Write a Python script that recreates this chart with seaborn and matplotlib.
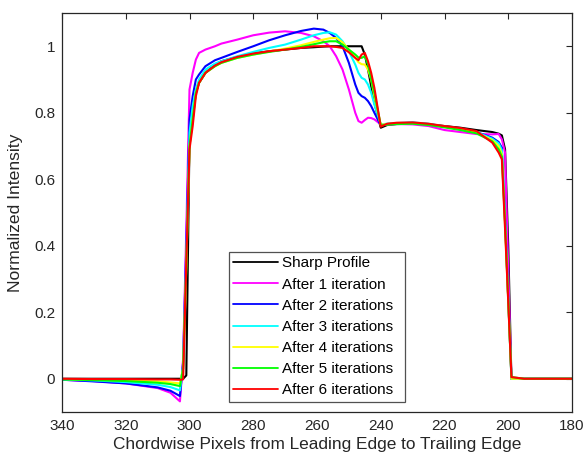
import matplotlib
matplotlib.use("Agg")
import matplotlib.pyplot as plt
import seaborn as sns
import pandas as pd
from matplotlib.lines import Line2D

# ---- data ----
x_px = [340, 330, 320, 310, 306, 303, 302, 301, 300, 299, 298, 297, 295, 292, 290,
        285, 280, 275, 270, 265, 261, 258, 256, 254, 252, 250, 248, 247, 246, 245,
        244, 243, 242, 240, 238, 235, 230, 225, 220, 215, 210, 205, 203, 202, 201,
        200, 199, 195, 190, 180]

sharp = [0, 0, 0, 0, 0, 0, 0, 0.01, 0.72, 0.79, 0.86, 0.89, 0.92, 0.945, 0.955,
         0.968, 0.978, 0.985, 0.99, 0.995, 0.997, 0.999, 1.0, 1.0, 1.0, 1.0, 1.0, 1.0, 1.0, 0.975,
         0.93, 0.88, 0.83, 0.755, 0.763, 0.766, 0.767, 0.765, 0.76, 0.755, 0.748, 0.742, 0.737, 0.732, 0.69,
         0.4, 0, 0, 0, 0]

iter1 = [-0.003, -0.007, -0.014, -0.028, -0.042, -0.068, 0.06, 0.45, 0.87, 0.92, 0.96, 0.98, 0.99, 1.0, 1.008,
         1.02, 1.033, 1.041, 1.045, 1.04, 1.03, 1.015, 1.0, 0.97, 0.93, 0.87, 0.80, 0.775, 0.77, 0.778,
         0.785, 0.784, 0.78, 0.765, 0.764, 0.766, 0.765, 0.76, 0.748, 0.742, 0.736, 0.735, 0.736, 0.72, 0.68,
         0.33, 0, 0, 0, 0]

iter2 = [-0.003, -0.008, -0.014, -0.026, -0.036, -0.052, 0.05, 0.40, 0.78, 0.85, 0.90, 0.915, 0.94, 0.958, 0.965,
         0.983, 1.0, 1.018, 1.033, 1.046, 1.053, 1.05, 1.04, 1.025, 1.0, 0.95, 0.885, 0.86, 0.85, 0.845,
         0.835, 0.82, 0.80, 0.762, 0.766, 0.768, 0.77, 0.766, 0.758, 0.752, 0.742, 0.725, 0.712, 0.695, 0.48,
         0.24, 0, 0, 0, 0]

iter3 = [-0.002, -0.005, -0.01, -0.018, -0.025, -0.035, 0.04, 0.36, 0.74, 0.82, 0.87, 0.90, 0.93, 0.948, 0.955,
         0.97, 0.983, 0.995, 1.005, 1.02, 1.033, 1.04, 1.042, 1.035, 1.015, 0.985, 0.945, 0.92, 0.905, 0.9,
         0.885, 0.86, 0.825, 0.765, 0.767, 0.769, 0.771, 0.767, 0.759, 0.752, 0.742, 0.722, 0.708, 0.688, 0.47,
         0.235, 0, 0, 0, 0]

iter4 = [-0.001, -0.003, -0.005, -0.008, -0.011, -0.014, 0.03, 0.34, 0.70, 0.78, 0.86, 0.89, 0.92, 0.94, 0.95,
         0.965, 0.975, 0.984, 0.993, 1.003, 1.013, 1.02, 1.024, 1.025, 1.012, 0.99, 0.965, 0.952, 0.946, 0.945,
         0.93, 0.90, 0.85, 0.764, 0.766, 0.768, 0.769, 0.765, 0.758, 0.75, 0.74, 0.718, 0.70, 0.675, 0.46,
         0.23, 0, 0, 0, 0]

iter5 = [-0.002, -0.004, -0.007, -0.012, -0.016, -0.022, 0.03, 0.33, 0.70, 0.78, 0.86, 0.89, 0.92, 0.94, 0.95,
         0.965, 0.975, 0.983, 0.99, 0.998, 1.006, 1.012, 1.015, 1.015, 1.005, 0.99, 0.975, 0.966, 0.965, 0.97,
         0.945, 0.90, 0.86, 0.762, 0.764, 0.766, 0.767, 0.763, 0.756, 0.748, 0.738, 0.714, 0.69, 0.668, 0.47,
         0.24, 0.005, 0, 0, 0]

iter6 = [0.0, -0.001, -0.001, -0.002, -0.002, -0.003, -0.002, 0.35, 0.69, 0.76, 0.85, 0.89, 0.92, 0.942, 0.952,
         0.968, 0.978, 0.985, 0.99, 0.995, 1.0, 1.0, 1.0, 0.998, 0.995, 0.982, 0.965, 0.958, 0.975, 0.98,
         0.955, 0.92, 0.875, 0.758, 0.767, 0.77, 0.771, 0.767, 0.76, 0.754, 0.745, 0.71, 0.68, 0.66, 0.45,
         0.23, 0.005, 0, 0, 0]

series_names = ["Sharp Profile", "After 1 iteration", "After 2 iterations", "After 3 iterations",
                "After 4 iterations", "After 5 iterations", "After 6 iterations"]
series_values = [sharp, iter1, iter2, iter3, iter4, iter5, iter6]
series_colors = ["#000000", "#ff00ff", "#0000ff", "#00ffff", "#ffff00", "#00ff00", "#ff0000"]

x_ticks = [340, 320, 300, 280, 260, 240, 220, 200, 180]
y_ticks = [0, 0.2, 0.4, 0.6, 0.8, 1]
y_tick_labels = ["0", "0.2", "0.4", "0.6", "0.8", "1"]

# ---- figure ----
sns.set_theme(style="white")
plt.rcParams["font.family"] = ["Liberation Sans", "DejaVu Sans"]

rows = []
for name, vals in zip(series_names, series_values):
    for xv, yv in zip(x_px, vals):
        rows.append({"x": xv, "y": yv, "series": name})
df = pd.DataFrame(rows)

fig = plt.figure(figsize=(5.83, 4.65), dpi=100)
ax = fig.add_axes([62 / 583, 1 - 412 / 465, 510 / 583, 399 / 465])

palette = dict(zip(series_names, series_colors))
for name in series_names:
    sns.lineplot(data=df[df["series"] == name], x="x", y="y", color=palette[name],
                 linewidth=1.5, estimator=None, sort=True, ax=ax, legend=False)

ax.set_xlim(340, 180)
ax.set_ylim(-0.1, 1.1)
ax.set_xticks(x_ticks)
ax.set_yticks(y_ticks)
ax.set_yticklabels(y_tick_labels)
ax.set_xlabel("Chordwise Pixels from Leading Edge to Trailing Edge", fontsize=12.4,
              color="#262626", labelpad=3)
ax.set_ylabel("Normalized Intensity", fontsize=12.6, color="#262626", labelpad=8)
ax.tick_params(direction="in", length=4, width=0.8, top=True, right=True,
               labelsize=11, colors="#262626", pad=5)
for sp in ax.spines.values():
    sp.set_visible(True)
    sp.set_color("#262626")
    sp.set_linewidth(0.9)

handles = [Line2D([0], [0], color=c, lw=1.3) for c in series_colors]
leg = ax.legend(handles, series_names, loc="lower left",
                bbox_to_anchor=(0.327, 0.025, 0.346, 0.371), mode="expand",
                fontsize=11, frameon=True, fancybox=False, handlelength=2.9,
                handletextpad=0.3, labelspacing=0.47, borderpad=0.3, borderaxespad=0)
leg.get_frame().set_edgecolor("#262626")
leg.get_frame().set_linewidth(0.9)
for t in leg.get_texts():
    t.set_color("#000000")

fig.savefig("out.png", dpi=100)
